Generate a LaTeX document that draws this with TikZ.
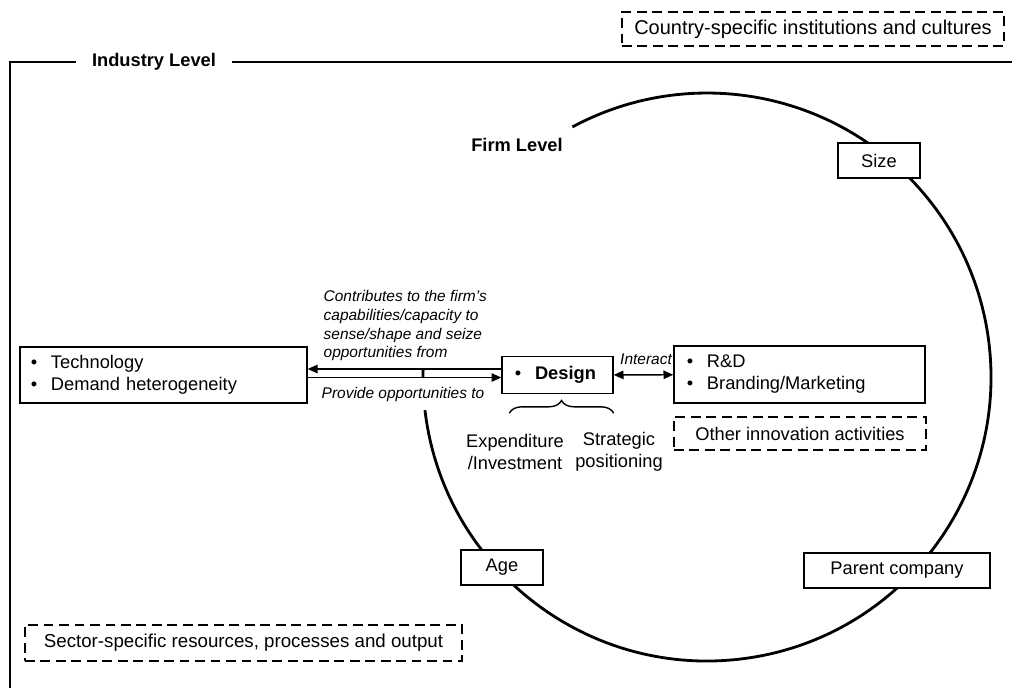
\documentclass[tikz,border=0pt]{standalone}
\usepackage{fontspec}
\setmainfont{Liberation Sans}
\usepackage{tikz}
\usetikzlibrary{arrows.meta,calc,decorations.pathreplacing}
\newcommand{\itm}{\makebox[0.5cm][l]{\textbullet}}

\begin{document}
\begin{tikzpicture}[>={Triangle[length=7pt,width=6pt]},x=0.025cm,y=-0.025cm,
    every node/.style={font=\fontsize{13}{15.6}\selectfont},
    box/.style={draw,fill=white,line width=0.9pt,inner sep=0pt},
    dashbox/.style={draw,dash pattern=on 7pt off 4pt,line width=0.9pt,inner sep=0pt},
    note/.style={font=\fontsize{11}{13.2}\selectfont\itshape,inner sep=1pt}]
    \useasboundingbox (0,0) rectangle (1012,687);

    \draw[line width=2pt] (707,377) ++(173.3:284) arc[start angle=173.3,end angle=-118.3,radius=284];
    \draw[line width=2pt] (707,377) ++(181.6:284) arc[start angle=181.6,end angle=179.8,radius=284];

    \node[fill=white,inner xsep=11.3pt,font=\fontsize{13}{15.6}\selectfont\bfseries] (ind) at (154,62) {Industry Level};
    \draw[line width=2pt] (ind.west) -- (10,62) -- (10,690);
    \draw[line width=2pt] (ind.east) -- (1015,62);

    \node[dashbox,minimum width=9.55cm,minimum height=0.85cm,font=\fontsize{14.2}{17}\selectfont] (country) at (813,29) {Country-specific institutions and cultures};
    \node[font=\fontsize{13}{15.6}\selectfont\bfseries] (firm) at (517,145) {Firm Level};
    \node[box,minimum width=2.05cm,minimum height=0.875cm] (size) at (879,160.5) {Size};
    \node[box,minimum width=2.05cm,minimum height=0.875cm] (age) at (502,567.5) {Age};
    \node[box,minimum width=4.65cm,minimum height=0.875cm] (parent) at (897,570.5) {Parent company};

    \node[box,align=left,text width=6.625cm,minimum height=1.4cm,inner xsep=0.275cm] (tech) at (163.5,375) {\itm Technology\\ \itm Demand heterogeneity};
    \node[box,align=left,text width=2.125cm,minimum height=0.925cm,inner xsep=0.325cm] (design) at (557.5,375) {\itm\textbf{Design}};
    \node[box,align=left,text width=5.625cm,minimum height=1.425cm,inner xsep=0.325cm] (rd) at (799.5,374.5) {\itm R\&D\\ \itm Branding/Marketing};
    \node[dashbox,minimum width=6.3cm,minimum height=0.825cm] (other) at (800,433.5) {Other innovation activities};
    \node[dashbox,minimum width=10.925cm,minimum height=0.9cm,font=\fontsize{13.3}{16}\selectfont] (sector) at (243.5,643) {Sector-specific resources, processes and output};

    \node[note,align=left,anchor=north west] (contrib) at (322,289) {Contributes to the firm's\\capabilities/capacity to\\sense/shape and seize\\opportunities from};
    \node[note] (provide) at (403,394) {Provide opportunities to};
    \node[note] (interact) at (646,359) {Interact};

    \draw[->,line width=1pt] ($(design.west)+(0,-6)$) -- ($(tech.east)+(0,-6)$);
    \draw[->,line width=1pt] ($(tech.east)+(0,2.5)$) -- ($(design.west)+(0,2.5)$);
    \draw[<->,line width=1pt] (design) -- (rd);

    \draw[decorate,decoration={brace,amplitude=9pt},line width=1pt] ($(design.south west)+(8,19)$) -- ($(design.south east)+(0,19)$);
    \node[align=center] (expend) at (515,452) {Expenditure\\/Investment};
    \node[align=center] (strat) at (619,452) {Strategic\\positioning};
\end{tikzpicture}
\end{document}
